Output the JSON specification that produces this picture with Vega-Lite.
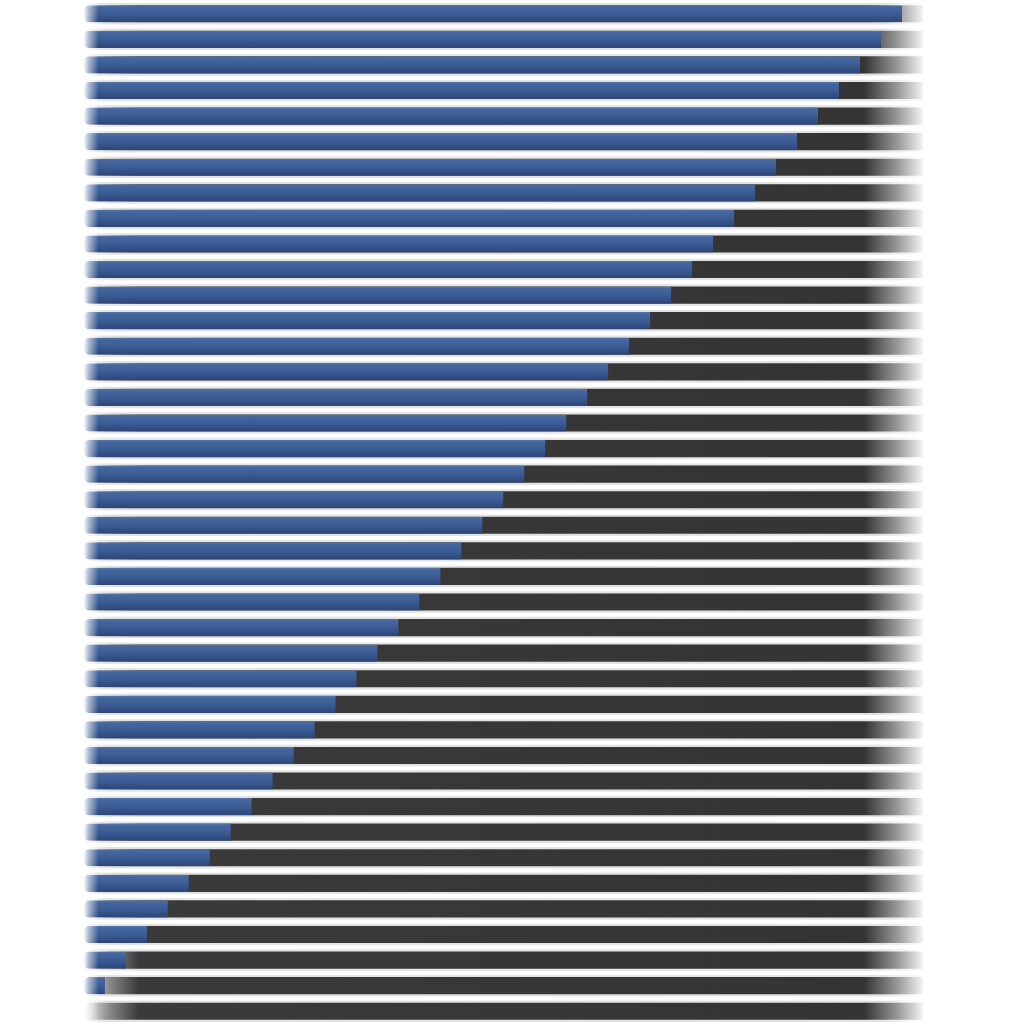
{
  "$schema": "https://vega.github.io/schema/vega-lite/v6.json",
  "width": 1024,
  "height": 1024,
  "autosize": {"type": "fit", "contains": "padding"},
  "padding": {"left": 84, "right": 101, "top": 1, "bottom": 0},
  "background": "#ffffff",
  "config": {"view": {"stroke": null}},
  "data": {
    "values": [
      {"row": 1, "value": 39}, {"row": 2, "value": 38}, {"row": 3, "value": 37}, {"row": 4, "value": 36},
      {"row": 5, "value": 35}, {"row": 6, "value": 34}, {"row": 7, "value": 33}, {"row": 8, "value": 32},
      {"row": 9, "value": 31}, {"row": 10, "value": 30}, {"row": 11, "value": 29}, {"row": 12, "value": 28},
      {"row": 13, "value": 27}, {"row": 14, "value": 26}, {"row": 15, "value": 25}, {"row": 16, "value": 24},
      {"row": 17, "value": 23}, {"row": 18, "value": 22}, {"row": 19, "value": 21}, {"row": 20, "value": 20},
      {"row": 21, "value": 19}, {"row": 22, "value": 18}, {"row": 23, "value": 17}, {"row": 24, "value": 16},
      {"row": 25, "value": 15}, {"row": 26, "value": 14}, {"row": 27, "value": 13}, {"row": 28, "value": 12},
      {"row": 29, "value": 11}, {"row": 30, "value": 10}, {"row": 31, "value": 9}, {"row": 32, "value": 8},
      {"row": 33, "value": 7}, {"row": 34, "value": 6}, {"row": 35, "value": 5}, {"row": 36, "value": 4},
      {"row": 37, "value": 3}, {"row": 38, "value": 2}, {"row": 39, "value": 1}, {"row": 40, "value": 0}
    ]
  },
  "layer": [
    {
      "mark": {
        "type": "bar",
        "height": {"band": 0.84},
        "cornerRadiusTopLeft": 6,
        "cornerRadiusBottomLeft": 6,
        "color": {
          "gradient": "linear", "x1": 0, "y1": 0, "x2": 1, "y2": 0,
          "stops": [
            {"offset": 0, "color": "#f4f4f4"},
            {"offset": 0.03, "color": "#e3e3e3"},
            {"offset": 0.95, "color": "#e3e3e3"},
            {"offset": 1, "color": "#ffffff"}
          ]
        }
      },
      "encoding": {
        "y": {"field": "row", "type": "ordinal", "axis": null, "scale": {"paddingInner": 0, "paddingOuter": 0}},
        "x": {"datum": 40, "type": "quantitative", "scale": {"domain": [0, 40], "nice": false, "zero": true}, "axis": null}
      }
    },
    {
      "mark": {
        "type": "bar",
        "height": {"band": 0.67},
        "cornerRadiusTopLeft": 5,
        "cornerRadiusBottomLeft": 5,
        "color": {
          "gradient": "linear", "x1": 0, "y1": 0, "x2": 1, "y2": 0,
          "stops": [
            {"offset": 0, "color": "#f0f0f0"},
            {"offset": 0.012, "color": "#c8c8c8"},
            {"offset": 0.03, "color": "#8a8a8a"},
            {"offset": 0.065, "color": "#3a3a3a"},
            {"offset": 0.93, "color": "#343434"},
            {"offset": 0.97, "color": "#9a9a9a"},
            {"offset": 1, "color": "#f4f4f4"}
          ]
        }
      },
      "encoding": {
        "y": {"field": "row", "type": "ordinal"},
        "x": {"datum": 40, "type": "quantitative"}
      }
    },
    {
      "mark": {
        "type": "bar",
        "height": {"band": 0.67},
        "cornerRadiusTopLeft": 5,
        "cornerRadiusBottomLeft": 5,
        "color": {
          "gradient": "linear", "x1": 0, "y1": 0, "x2": 0, "y2": 1,
          "stops": [
            {"offset": 0, "color": "#5273ab"},
            {"offset": 0.12, "color": "#45679f"},
            {"offset": 0.55, "color": "#3a5a93"},
            {"offset": 1, "color": "#2c4577"}
          ]
        }
      },
      "encoding": {
        "y": {"field": "row", "type": "ordinal"},
        "x": {"field": "value", "type": "quantitative"}
      }
    },
    {
      "mark": {
        "type": "bar",
        "height": {"band": 1},
        "color": {
          "gradient": "linear", "x1": 0, "y1": 0, "x2": 1, "y2": 0,
          "stops": [
            {"offset": 0, "color": "rgba(255,255,255,0.95)"},
            {"offset": 0.35, "color": "rgba(255,255,255,0.55)"},
            {"offset": 1, "color": "rgba(255,255,255,0)"}
          ]
        }
      },
      "encoding": {
        "y": {"field": "row", "type": "ordinal"},
        "x": {"datum": 0.7, "type": "quantitative"}
      }
    }
  ]
}
